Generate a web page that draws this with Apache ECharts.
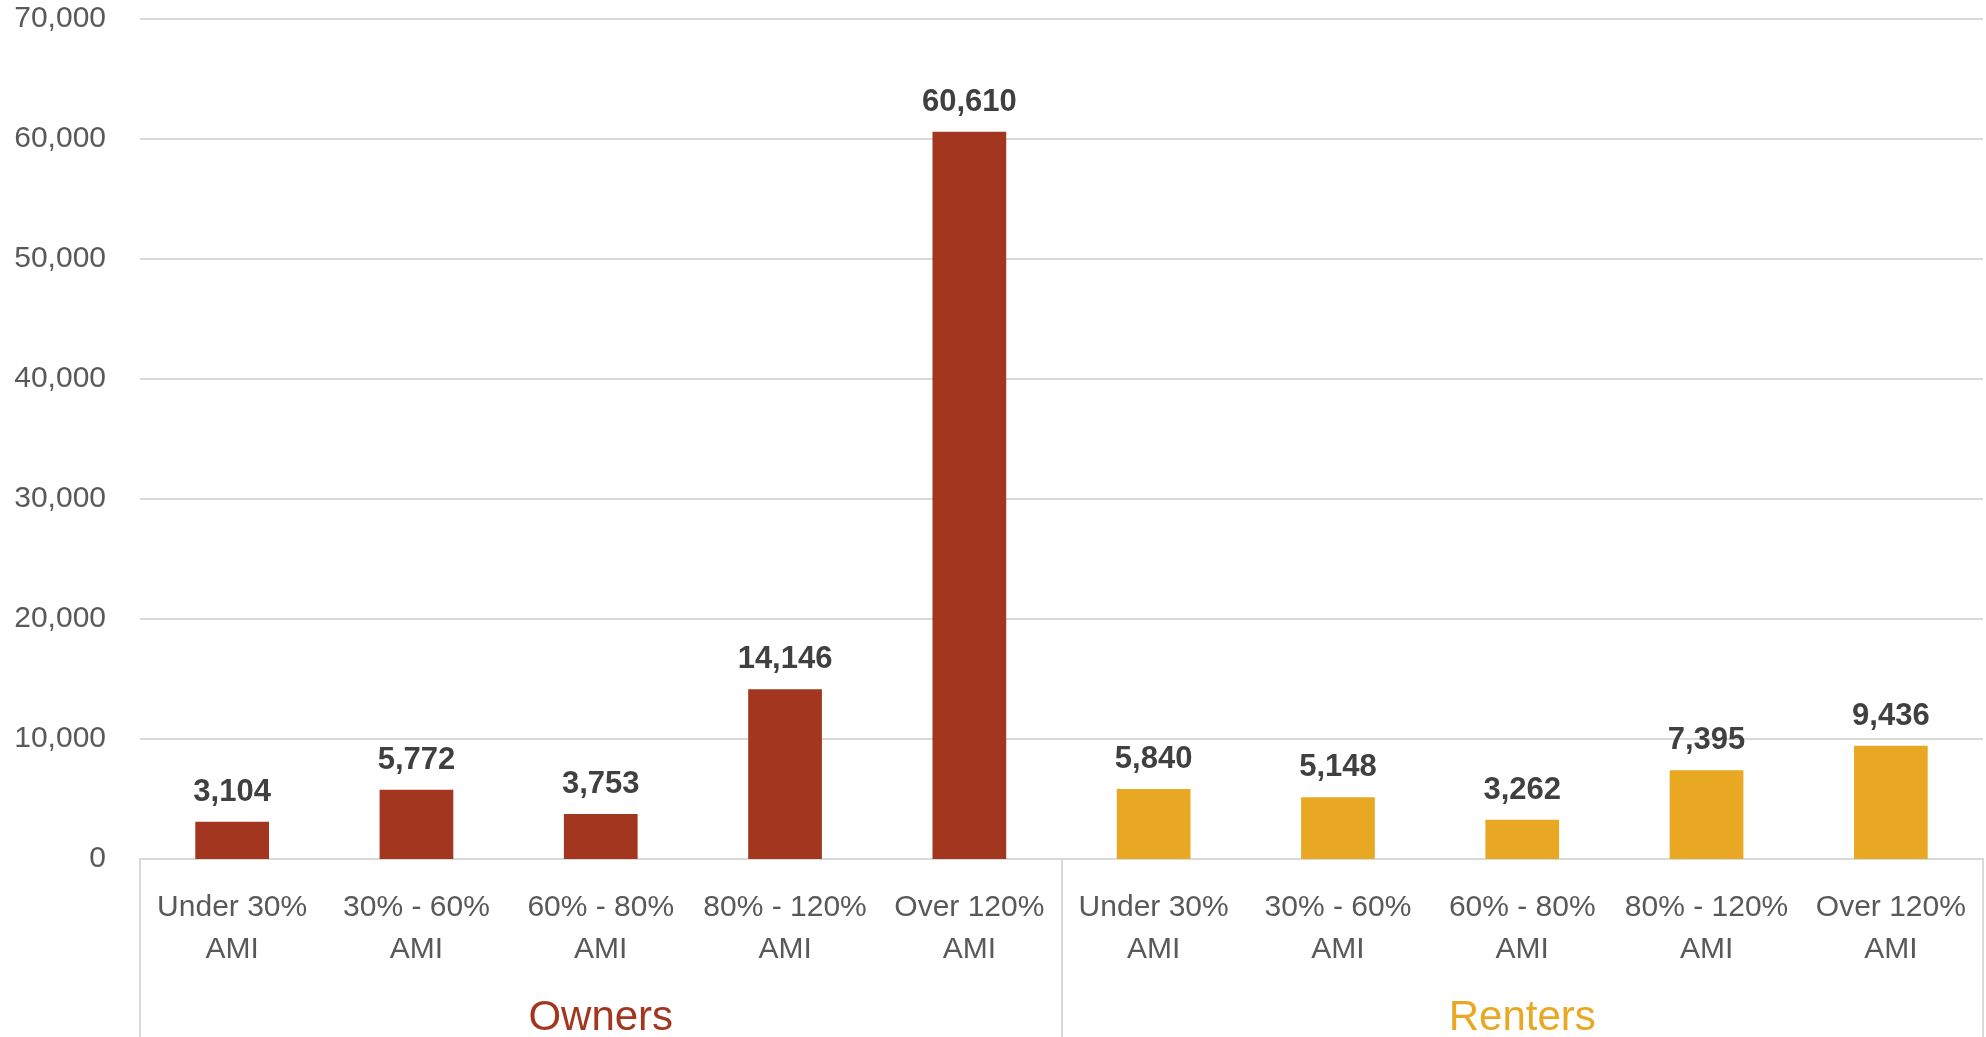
<!DOCTYPE html>
<html>
<head>
<meta charset="utf-8">
<script src="https://cdn.jsdelivr.net/npm/echarts@6/dist/echarts.min.js"></script>
<style>
html,body{margin:0;padding:0;background:#fff;}
#c{width:1986px;height:1037px;}
</style>
</head>
<body>
<div id="c"></div>
<script>
const categories = ["Under 30%\nAMI","30% - 60%\nAMI","60% - 80%\nAMI","80% - 120%\nAMI","Over 120%\nAMI"];
const groups = ["Owners","Renters"];
const ownersValues = [3104, 5772, 3753, 14146, 60610];
const rentersValues = [5840, 5148, 3262, 7395, 9436];
const yTicks = [0, 10000, 20000, 30000, 40000, 50000, 60000, 70000];

const FONT = "'Liberation Sans', Arial, sans-serif";
const groupColors = ["#A2361F", "#E9A823"];

const xCats = categories.concat(categories);
const barData = ownersValues.map(v => ({value: v, itemStyle: {color: groupColors[0]}}))
  .concat(rentersValues.map(v => ({value: v, itemStyle: {color: groupColors[1]}})));

const chart = echarts.init(document.getElementById('c'));
chart.setOption({
  animation: false,
  grid: {left: 140, right: 3, top: 19, bottom: 178, containLabel: false, outerBoundsMode: 'none'},
  xAxis: [
    {
      type: 'category', data: xCats, position: 'bottom',
      axisLine: {show: true, lineStyle: {color: '#D9D9D9', width: 2}},
      axisTick: {show: false},
      axisLabel: {interval: 0, margin: 28, fontFamily: FONT, fontSize: 30, lineHeight: 42, color: '#595959'}
    },
    {
      type: 'category', data: groups, position: 'bottom',
      axisLine: {show: true, lineStyle: {color: '#D9D9D9', width: 2}},
      axisTick: {show: true, length: 180, lineStyle: {color: '#D9D9D9', width: 2}},
      axisLabel: {interval: 0, margin: 138, fontFamily: FONT, fontSize: 42, lineHeight: 42,
        color: (v, i) => groupColors[groups.indexOf(v)]}
    }
  ],
  yAxis: {
    type: 'value', min: yTicks[0], max: yTicks[yTicks.length - 1], interval: 10000,
    axisLine: {show: false}, axisTick: {show: false},
    splitLine: {lineStyle: {color: '#D9D9D9', width: 2}},
    axisLabel: {margin: 34, fontFamily: FONT, fontSize: 30, color: '#595959',
      formatter: v => v.toLocaleString('en-US')}
  },
  series: [{
    type: 'bar', xAxisIndex: 0, data: barData, barWidth: '40%',
    label: {show: true, position: 'top', distance: 14, fontFamily: FONT, fontSize: 31,
      fontWeight: 'bold', color: '#404040', formatter: p => p.value.toLocaleString('en-US')}
  }]
});
</script>
</body>
</html>
